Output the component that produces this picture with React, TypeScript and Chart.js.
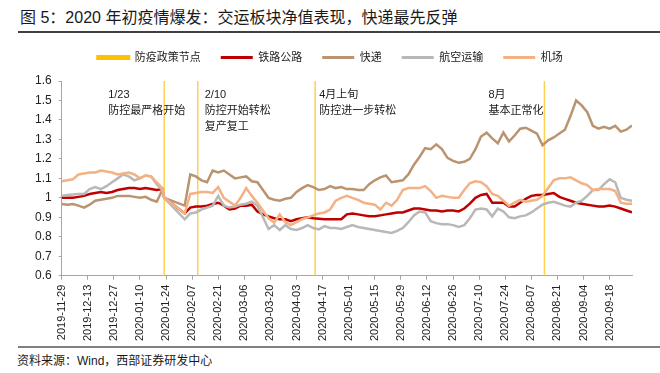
import React, { useEffect, useRef } from "react";
import { Chart, registerables } from "chart.js";

Chart.register(...registerables);

const FONT = "'Liberation Sans', 'Noto Sans CJK SC', sans-serif";

const seriesNames = ["防疫政策节点", "铁路公路", "快递", "航空运输", "机场"];
const seriesColors = ["#FFC000", "#C00000", "#BA9470", "#B8B8B8", "#F4B183"];

const dates = [
  "2019-11-29", "2019-12-02", "2019-12-05", "2019-12-08", "2019-12-11", "2019-12-14", "2019-12-17", "2019-12-20", "2019-12-23", "2019-12-26",
  "2019-12-29", "2020-01-01", "2020-01-04", "2020-01-07", "2020-01-10", "2020-01-13", "2020-01-16", "2020-01-19", "2020-01-22", "2020-01-23",
  "2020-02-03", "2020-02-06", "2020-02-09", "2020-02-12", "2020-02-15", "2020-02-18", "2020-02-21", "2020-02-24", "2020-02-27",
  "2020-03-01", "2020-03-04", "2020-03-07", "2020-03-10", "2020-03-13", "2020-03-16", "2020-03-19", "2020-03-22", "2020-03-25", "2020-03-28", "2020-03-31",
  "2020-04-03", "2020-04-06", "2020-04-09", "2020-04-12", "2020-04-15", "2020-04-18", "2020-04-21", "2020-04-24", "2020-04-27", "2020-04-30",
  "2020-05-03", "2020-05-06", "2020-05-09", "2020-05-12", "2020-05-15", "2020-05-18", "2020-05-21", "2020-05-24", "2020-05-27", "2020-05-30",
  "2020-06-02", "2020-06-05", "2020-06-08", "2020-06-11", "2020-06-14", "2020-06-17", "2020-06-20", "2020-06-23", "2020-06-26", "2020-06-29",
  "2020-07-02", "2020-07-05", "2020-07-08", "2020-07-11", "2020-07-14", "2020-07-17", "2020-07-20", "2020-07-23", "2020-07-26", "2020-07-29",
  "2020-08-01", "2020-08-04", "2020-08-07", "2020-08-10", "2020-08-13", "2020-08-16", "2020-08-19", "2020-08-22", "2020-08-25", "2020-08-28", "2020-08-31",
  "2020-09-03", "2020-09-06", "2020-09-09", "2020-09-12", "2020-09-15", "2020-09-18", "2020-09-21", "2020-09-24", "2020-09-27", "2020-09-30",
];

const railRoad = [
  1.0, 1.0, 1.0, 1.005, 1.01, 1.02, 1.025, 1.03, 1.025, 1.03, 1.04, 1.045, 1.05, 1.05, 1.045, 1.05, 1.045, 1.04, 1.045, 1.0,
  0.92, 0.95, 0.955, 0.955, 0.96, 0.968, 0.975, 0.96, 0.94,
  0.945, 0.96, 0.96, 0.965, 0.93, 0.915, 0.905, 0.895, 0.89, 0.89, 0.88,
  0.89, 0.895, 0.9, 0.895, 0.893, 0.89, 0.89, 0.89, 0.89, 0.915,
  0.92, 0.915, 0.91, 0.905, 0.905, 0.91, 0.915, 0.92, 0.925, 0.925,
  0.935, 0.945, 0.945, 0.94, 0.935, 0.935, 0.93, 0.935, 0.935, 0.93,
  0.945, 0.97, 1.0, 1.015, 1.02, 0.975, 0.975, 0.975, 0.955, 0.955,
  0.975, 0.995, 1.01, 1.015, 1.015, 1.02, 1.025, 1.005, 0.995, 0.985, 0.975,
  0.97, 0.965, 0.96, 0.955, 0.955, 0.96, 0.955, 0.945, 0.935, 0.925,
];

const express = [
  0.968, 0.965, 0.968, 0.96, 0.95, 0.965, 0.985, 0.99, 0.995, 1.0, 1.01, 1.01, 1.01, 1.005, 1.0, 1.005, 0.99, 0.98, 1.04, 1.0,
  0.96, 1.12, 1.11, 1.09, 1.08, 1.14, 1.13, 1.14, 1.12,
  1.1, 1.105, 1.11, 1.085, 1.08, 1.04, 1.0, 0.99, 0.985, 0.995, 1.0,
  1.03, 1.05, 1.065, 1.055, 1.04, 1.045, 1.06, 1.05, 1.055, 1.045,
  1.045, 1.04, 1.04, 1.07, 1.09, 1.105, 1.115, 1.08, 1.085, 1.09,
  1.12, 1.17, 1.21, 1.255, 1.25, 1.275, 1.25, 1.205, 1.19, 1.18,
  1.185, 1.2, 1.25, 1.315, 1.335, 1.305, 1.28, 1.335, 1.29, 1.32,
  1.355, 1.36, 1.345, 1.33, 1.27, 1.295, 1.31, 1.33, 1.35, 1.42, 1.5,
  1.475, 1.44, 1.37, 1.355, 1.365, 1.355, 1.37, 1.34, 1.35, 1.372,
];

const aviation = [
  1.01, 1.015, 1.017, 1.02, 1.02, 1.045, 1.055, 1.045, 1.06, 1.08, 1.1, 1.12, 1.11, 1.09, 1.1, 1.115, 1.11, 1.07, 1.04, 1.0,
  0.89, 0.92, 0.925, 0.94, 0.95, 0.96, 1.01, 0.96, 0.95,
  0.955, 0.965, 0.97, 0.98, 0.96, 0.9, 0.84, 0.86, 0.835, 0.86, 0.84,
  0.835, 0.845, 0.86, 0.845, 0.838, 0.855, 0.845, 0.845, 0.84, 0.85,
  0.86, 0.85, 0.845, 0.84, 0.835, 0.83, 0.825, 0.82, 0.83, 0.845,
  0.875, 0.91, 0.93, 0.925, 0.88, 0.87, 0.865, 0.865, 0.86, 0.85,
  0.86, 0.895, 0.94, 0.945, 0.94, 0.905, 0.945, 0.93, 0.9, 0.895,
  0.905, 0.91, 0.925, 0.945, 0.965, 0.975, 0.98, 0.97, 0.96, 0.955, 0.975,
  0.985, 1.01, 1.04, 1.04, 1.07, 1.095, 1.08, 1.0, 0.99, 0.985,
];

const airport = [
  1.085, 1.09, 1.095, 1.12, 1.125, 1.13, 1.13, 1.14, 1.135, 1.13, 1.12, 1.125, 1.13, 1.12, 1.1, 1.115, 1.11, 1.08, 1.05, 1.0,
  0.92, 1.02, 1.025, 1.03, 1.03, 1.025, 1.055, 1.0, 0.98,
  0.96, 1.0, 1.05, 1.01, 0.975, 0.935, 0.895, 0.872, 0.915, 0.875, 0.86,
  0.875, 0.89, 0.9, 0.91, 0.92, 0.925, 0.94, 0.985, 1.0, 1.01,
  1.0, 0.99, 0.975, 0.97, 0.965, 0.94, 0.975, 0.96, 0.99, 1.04,
  1.05, 1.05, 1.05, 1.06, 1.035, 1.0, 1.01, 1.005, 1.0, 1.0,
  1.04, 1.075, 1.085, 1.08, 1.06, 1.02, 1.01, 0.985, 0.96, 0.975,
  0.99, 0.98, 0.985, 0.99, 1.01, 1.05, 1.09, 1.1, 1.1, 1.105, 1.09,
  1.075, 1.065, 1.04, 1.045, 1.045, 1.045, 1.035, 0.975, 0.97, 0.97,
];

const policyDates = ["2020-01-23", "2020-02-10", "2020-04-13", "2020-08-14"];
const noteTexts = [
  ["1/23", "防控最严格开始"],
  ["2/10", "防控开始转松", "复产复工"],
  ["4月上旬", "防控进一步转松"],
  ["8月", "基本正常化"],
];
const noteOffsets = [-56, 7, 4, -56];

const tickDates = [
  "2019-11-29", "2019-12-13", "2019-12-27", "2020-01-10", "2020-01-24", "2020-02-07", "2020-02-21", "2020-03-06",
  "2020-03-20", "2020-04-03", "2020-04-17", "2020-05-01", "2020-05-15", "2020-05-29", "2020-06-12", "2020-06-26",
  "2020-07-10", "2020-07-24", "2020-08-07", "2020-08-21", "2020-09-04", "2020-09-18",
];
const yMin = 0.6;
const yMax = 1.6;
const yStep = 0.1;
const xEnd = "2020-09-30";

const START = Date.UTC(2019, 10, 29);
const toDay = (s: string) => {
  const [y, m, d] = s.split("-").map(Number);
  return (Date.UTC(y, m - 1, d) - START) / 86400000;
};

const lineSeries = [railRoad, express, aviation, airport];

const notePlugin = {
  id: "notes",
  beforeLayout(chart: any) {
    const lg = chart.legend;
    if (lg && !lg.__patched) {
      lg.__patched = true;
      const origFit = lg.fit.bind(lg);
      lg.fit = function () {
        origFit();
        this.height += 8;
      };
    }
  },
  afterDatasetsDraw(chart: any) {
    const { ctx, chartArea, scales } = chart;
    const x = scales.x;
    ctx.save();
    ctx.fillStyle = "#1a1a1a";
    ctx.font = `11px ${FONT}`;
    ctx.textBaseline = "middle";
    ctx.textAlign = "left";
    noteTexts.forEach((lines, i) => {
      const px = x.getPixelForValue(toDay(policyDates[i])) + noteOffsets[i];
      lines.forEach((t, j) => ctx.fillText(t, px, chartArea.top + 14 + j * 16));
    });
    ctx.restore();
  },
};

export default function App() {
  const ref = useRef<HTMLCanvasElement>(null);

  useEffect(() => {
    const policyData: any[] = [];
    policyDates.forEach((d) => {
      const dx = toDay(d);
      policyData.push({ x: dx, y: yMin }, { x: dx, y: yMax }, { x: dx, y: null });
    });
    const datasets: any[] = [
      {
        label: seriesNames[0],
        data: policyData,
        borderColor: "#FFD04D",
        borderWidth: 1.5,
        pointRadius: 0,
        spanGaps: false,
        order: 10,
      },
      ...lineSeries.map((vals, i) => ({
        label: seriesNames[i + 1],
        data: dates.map((d, k) => ({ x: toDay(d), y: vals[k] })),
        borderColor: seriesColors[i + 1],
        backgroundColor: seriesColors[i + 1],
        borderWidth: 2.5,
        pointRadius: 0,
        tension: 0,
        order: 5 - i,
      })),
    ];

    const chart = new Chart(ref.current as HTMLCanvasElement, {
      type: "line",
      data: { datasets },
      options: {
        responsive: false,
        animation: false,
        layout: { padding: { left: 13, right: 28, top: 0, bottom: 4 } },
        plugins: {
          tooltip: { enabled: false },
          legend: {
            position: "top",
            labels: {
              boxWidth: 32,
              boxHeight: 3,
              padding: 20,
              color: "#222",
              font: { size: 11, family: FONT },
              generateLabels: () =>
                seriesNames.map((n, i) => ({
                  text: n,
                  fillStyle: seriesColors[i],
                  strokeStyle: seriesColors[i],
                  lineWidth: i === 0 ? 2 : 0,
                  hidden: false,
                  datasetIndex: i,
                  fontColor: "#222",
                })),
            },
          },
        },
        scales: {
          x: {
            type: "linear",
            min: 0,
            max: toDay(xEnd),
            afterBuildTicks: (axis: any) => {
              axis.ticks = tickDates.map((s) => ({ value: toDay(s) }));
            },
            ticks: {
              autoSkip: false,
              minRotation: 90,
              maxRotation: 90,
              padding: 5,
              color: "#222",
              font: { size: 11, family: FONT },
              callback: (_v: any, i: number) => tickDates[i],
            },
            grid: { drawOnChartArea: false, drawTicks: true, tickLength: 4, color: "#a6a6a6" },
            border: { display: true, color: "#a6a6a6" },
          },
          y: {
            min: yMin,
            max: yMax,
            ticks: {
              stepSize: yStep,
              padding: 7,
              color: "#222",
              font: { size: 12, family: FONT },
              callback: (v: any) => String(Math.round(Number(v) * 10) / 10),
            },
            grid: { drawOnChartArea: false, drawTicks: true, tickLength: 3, color: "#a6a6a6" },
            border: { display: true, color: "#a6a6a6" },
          },
        },
      },
      plugins: [notePlugin],
    } as any);
    return () => chart.destroy();
  }, []);

  return (
    <div style={{ position: "fixed", left: 0, top: 0, width: 660, height: 373, background: "#fff", overflow: "hidden", fontFamily: FONT }}>
      <div style={{ position: "absolute", left: 20, top: 8, fontSize: 16, lineHeight: "20px", color: "#1a1a1a", whiteSpace: "nowrap" }}>
        图 5：2020 年初疫情爆发：交运板块净值表现，快递最先反弹
      </div>
      <div style={{ position: "absolute", left: 18, right: 0, top: 31, height: 2, background: "#404040" }} />
      <div style={{ position: "absolute", left: 15, top: 32, width: 645, height: 318 }}>
        <canvas ref={ref} width={645} height={318} style={{ width: 645, height: 318, display: "block" }} />
      </div>
      <div style={{ position: "absolute", left: 18, right: 0, top: 346, height: 2, background: "#808080" }} />
      <div style={{ position: "absolute", left: 17, top: 353, fontSize: 12, lineHeight: "16px", color: "#1a1a1a", whiteSpace: "nowrap" }}>
        资料来源：Wind，西部证券研发中心
      </div>
    </div>
  );
}
